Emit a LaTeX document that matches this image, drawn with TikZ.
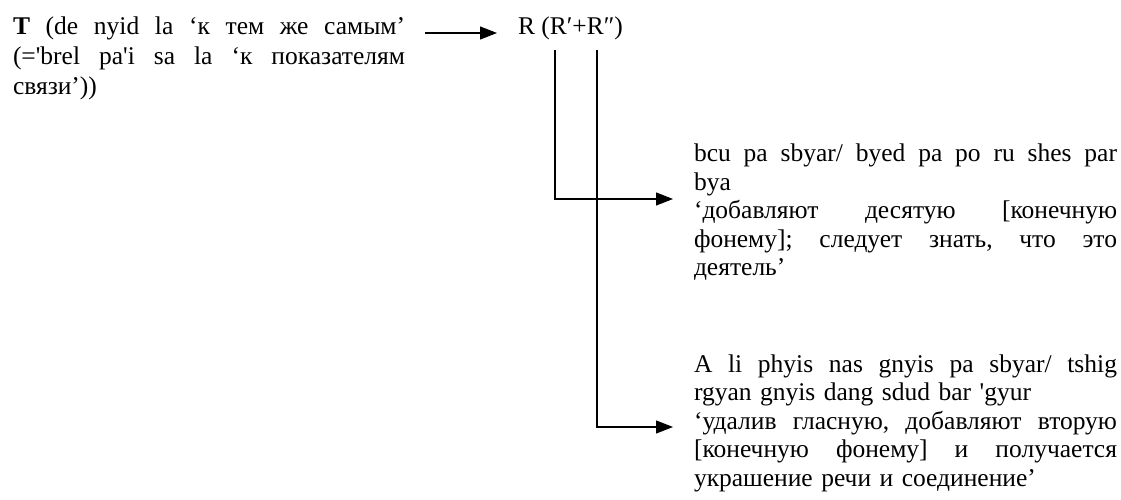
\documentclass[tikz,border=0pt]{standalone}
\usepackage{fontspec}
\newfontfamily\ser{Liberation Serif}
\usetikzlibrary{arrows.meta}
\newcommand\jline[2]{\leavevmode\hbox to #1{\frenchspacing\spaceskip=.25em plus 1fil\relax\xspaceskip=.25em plus 1fil\relax #2}}
\begin{document}
\begin{tikzpicture}[x=1pt,y=1pt,
  txt/.style={anchor=base west, inner sep=0pt, outer sep=0pt, font=\ser\fontsize{25.5}{30}\selectfont, align=left},
  rtxt/.style={txt, font=\ser\fontsize{25.5}{28.5}\selectfont, text width=423pt},
  conn/.style={line width=1.2pt},
  arr/.style={conn, -{Triangle[length=17pt,width=13pt]}}]
\useasboundingbox (0,0) rectangle (1121,-500);
\node[txt, text width=392pt] (T) at (13,-35)
  {\jline{392pt}{\textbf{T} (de nyid la ‘к тем же самым’}\\
   \jline{392pt}{(='brel pa'i sa la ‘к показателям}\\
   связи’))};
\node[txt] (R) at (518,-35) {R (R′+R″)};
\node[rtxt] (B1) at (694,-161.5)
  {\jline{423pt}{bcu pa sbyar/ byed pa po ru shes par}\\
   bya\\
   \jline{423pt}{‘добавляют десятую [конечную}\\
   \jline{423pt}{фонему]; следует знать, что это}\\
   деятель’};
\node[rtxt] (B2) at (694,-372)
  {\jline{423pt}{A li phyis nas gnyis pa sbyar/ tshig}\\
   rgyan gnyis dang sdud bar 'gyur\\
   \jline{423pt}{‘удалив гласную, добавляют вторую}\\
   \jline{423pt}{[конечную фонему] и получается}\\
   украшение речи и соединение’};
\coordinate (a0) at (425,-33);
\coordinate (v1) at (555,-50);
\coordinate (v2) at (597,-50);
\coordinate (e1) at (673,-199);
\coordinate (e2) at (673,-427);
\draw[arr, shorten >=21pt] (a0) -- (a0 -| R.west);
\draw[arr] (v1) |- (e1);
\draw[arr] (v2) |- (e2);
\end{tikzpicture}
\end{document}
